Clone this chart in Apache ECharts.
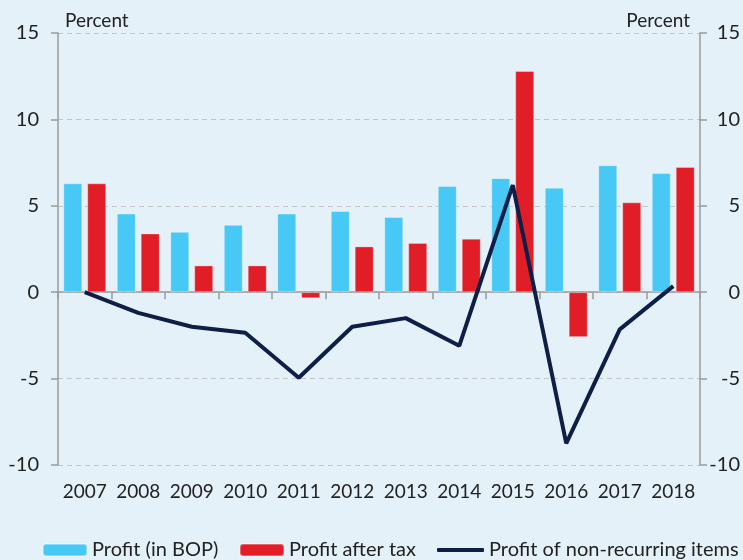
<!DOCTYPE html>
<html>
<head>
<meta charset="utf-8">
<script src="https://cdn.jsdelivr.net/npm/echarts@6/dist/echarts.min.js"></script>
<style>
  html, body { margin: 0; padding: 0; background: #e4f1f8; }
  #chart { width: 743px; height: 560px; }
</style>
</head>
<body>
<div id="chart"></div>
<script>
var years = ['2007', '2008', '2009', '2010', '2011', '2012', '2013', '2014', '2015', '2016', '2017', '2018'];
var profitBop = [6.3, 4.55, 3.5, 3.9, 4.55, 4.7, 4.35, 6.15, 6.6, 6.05, 7.35, 6.9];
var profitAfterTax = [6.3, 3.4, 1.55, 1.55, -0.35, 2.65, 2.85, 3.1, 12.8, -2.6, 5.2, 7.25];
var nonRecurring = [0, -1.2, -2.0, -2.35, -4.95, -2.0, -1.5, -3.1, 6.2, -8.75, -2.15, 0.35];
var yTicks = { min: -10, max: 15, interval: 5 };

var font = 'Lato, "Open Sans", sans-serif';
var textColor = '#222222';
var axisGrey = '#9a9a9a';

var myChart = echarts.init(document.getElementById('chart'));

function legendAt(left, name, isLine) {
  return {
    left: left,
    top: 540,
    padding: 0,
    itemWidth: isLine ? 47 : 44,
    itemHeight: isLine ? 4 : 12,
    itemGap: 5,
    data: [isLine ? { name: name, icon: 'roundRect' } : name],
    selectedMode: false,
    textStyle: { fontFamily: font, fontSize: 20, color: textColor }
  };
}

function yAxis(side) {
  var left = side === 'left';
  return {
    type: 'value',
    position: side,
    min: yTicks.min,
    max: yTicks.max,
    interval: yTicks.interval,
    name: 'Percent',
    nameLocation: 'end',
    nameGap: 3,
    nameTextStyle: {
      fontFamily: font,
      fontSize: 19,
      color: textColor,
      align: left ? 'left' : 'right',
      padding: left ? [0, 0, 0, 7] : [0, 10, 0, 0]
    },
    axisLine: { show: true, lineStyle: { color: axisGrey, width: 1.5 } },
    axisTick: { show: true, length: 7, lineStyle: { color: axisGrey, width: 1.5 } },
    axisLabel: {
      fontFamily: font,
      fontSize: 20,
      color: textColor,
      margin: left ? 19 : 40,
      align: 'right'
    },
    splitLine: {
      show: left,
      lineStyle: { color: '#c4c4c4', type: [5, 4], width: 1.2 }
    }
  };
}

var option = {
  backgroundColor: '#e4f1f8',
  animation: false,
  grid: { left: 58, right: 43, top: 33, bottom: 95, outerBoundsMode: 'none', containLabel: false },
  legend: [
    legendAt(42, 'Profit (in BOP)', false),
    legendAt(239, 'Profit after tax', false),
    legendAt(437, 'Profit of non-recurring items', true)
  ],
  xAxis: [
    {
      type: 'category',
      data: years,
      axisLine: { onZero: true, lineStyle: { color: axisGrey, width: 1.5 } },
      axisTick: { show: true, length: 7, lineStyle: { color: axisGrey, width: 1.5 } },
      axisLabel: { show: false }
    },
    {
      type: 'category',
      data: years,
      position: 'bottom',
      axisLine: { show: false },
      axisTick: { show: false },
      axisLabel: { fontFamily: font, fontSize: 19, color: textColor, margin: 17, interval: 0, hideOverlap: false }
    }
  ],
  yAxis: [yAxis('left'), yAxis('right')],
  series: [
    {
      name: 'Profit (in BOP)',
      type: 'bar',
      data: profitBop,
      barWidth: 19,
      barGap: '26%',
      itemStyle: { color: '#47c8f5', borderColor: 'rgba(255,255,255,0.35)', borderWidth: 1 }
    },
    {
      name: 'Profit after tax',
      type: 'bar',
      data: profitAfterTax,
      barWidth: 19,
      barGap: '26%',
      itemStyle: { color: '#e11e27', borderColor: 'rgba(255,255,255,0.3)', borderWidth: 1 }
    },
    {
      name: 'Profit of non-recurring items',
      type: 'line',
      data: nonRecurring,
      symbol: 'none',
      lineStyle: { color: '#0f1e46', width: 4 },
      itemStyle: { color: '#0f1e46' },
      z: 5
    }
  ]
};

myChart.setOption(option);
</script>
</body>
</html>
